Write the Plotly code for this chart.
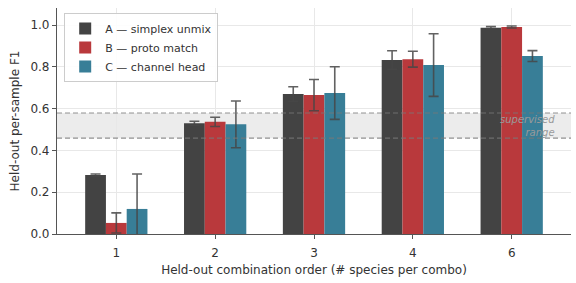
import plotly.graph_objects as go

categories = ["1", "2", "3", "4", "6"]
series_names = ["A — simplex unmix", "B — proto match", "C — channel head"]
vals_a = [0.282, 0.530, 0.670, 0.833, 0.988]
err_a = [0.005, 0.010, 0.035, 0.044, 0.005]
vals_b = [0.053, 0.537, 0.665, 0.837, 0.991]
err_b = [0.048, 0.022, 0.075, 0.038, 0.005]
vals_c = [0.120, 0.525, 0.675, 0.809, 0.852]
err_c = [0.167, 0.112, 0.126, 0.150, 0.026]
colors = ["#434343", "#b9393c", "#387e97"]
band_lo, band_hi = 0.459, 0.579
y_ticks = [0.0, 0.2, 0.4, 0.6, 0.8, 1.0]

fig = go.Figure()
for name, v, e, c in zip(series_names, [vals_a, vals_b, vals_c], [err_a, err_b, err_c], colors):
    fig.add_trace(go.Bar(
        x=categories, y=v, name=name,
        marker=dict(color=c, line=dict(width=0)),
        error_y=dict(type="data", array=e, visible=True, color="rgba(70,70,70,0.85)",
                     thickness=1.6, width=5),
    ))

fig.add_shape(type="rect", xref="paper", yref="y", x0=0, x1=1, y0=band_lo, y1=band_hi,
              fillcolor="rgba(200,200,200,0.35)", line=dict(width=0), layer="below")
for yv in [band_lo, band_hi]:
    fig.add_shape(type="line", xref="paper", yref="y", x0=0, x1=1, y0=yv, y1=yv,
                  line=dict(color="rgba(120,120,120,0.8)", width=1.1, dash="5px,3px"), layer="above")
fig.add_annotation(xref="paper", yref="y", x=0.972, y=(band_lo + band_hi) / 2,
                   text="<i>supervised<br>range</i>", showarrow=False, xanchor="right",
                   align="right", font=dict(size=10, color="#9a9a9a", family="DejaVu Sans"))

fig.update_layout(
    width=576, height=283,
    margin=dict(l=57, r=5, t=8, b=49),
    paper_bgcolor="white", plot_bgcolor="white",
    barmode="group", bargap=0.37, bargroupgap=0,
    font=dict(family="DejaVu Sans", size=11, color="#333333"),
    showlegend=True,
    legend=dict(x=0.014, y=0.978, xanchor="left", yanchor="top",
                bgcolor="rgba(255,255,255,0.9)", bordercolor="#cccccc", borderwidth=1,
                font=dict(size=11, color="#333333"), itemwidth=30, tracegroupgap=0),
)
fig.update_xaxes(
    type="category", range=[-0.6, 4.6],
    showline=True, linecolor="#555555", linewidth=1.2,
    ticks="outside", ticklen=4, tickcolor="#555555", ticklabelstandoff=3,
    showgrid=True, gridcolor="#e8e8e8", gridwidth=1,
    tickfont=dict(size=12, color="#333333"),
    title=dict(text="Held-out combination order (# species per combo)", font=dict(size=12, color="#333333"), standoff=7),
)
fig.update_yaxes(
    range=[0, 1.082], tickvals=y_ticks, ticktext=[f"{t:.1f}" for t in y_ticks],
    showline=True, linecolor="#555555", linewidth=1.2,
    ticks="outside", ticklen=4, tickcolor="#555555",
    showgrid=True, gridcolor="#e8e8e8", gridwidth=1, zeroline=False,
    tickfont=dict(size=12, color="#333333"),
    title=dict(text="Held-out per-sample F1", font=dict(size=12, color="#333333"), standoff=8),
)

fig.write_html("out.html")
